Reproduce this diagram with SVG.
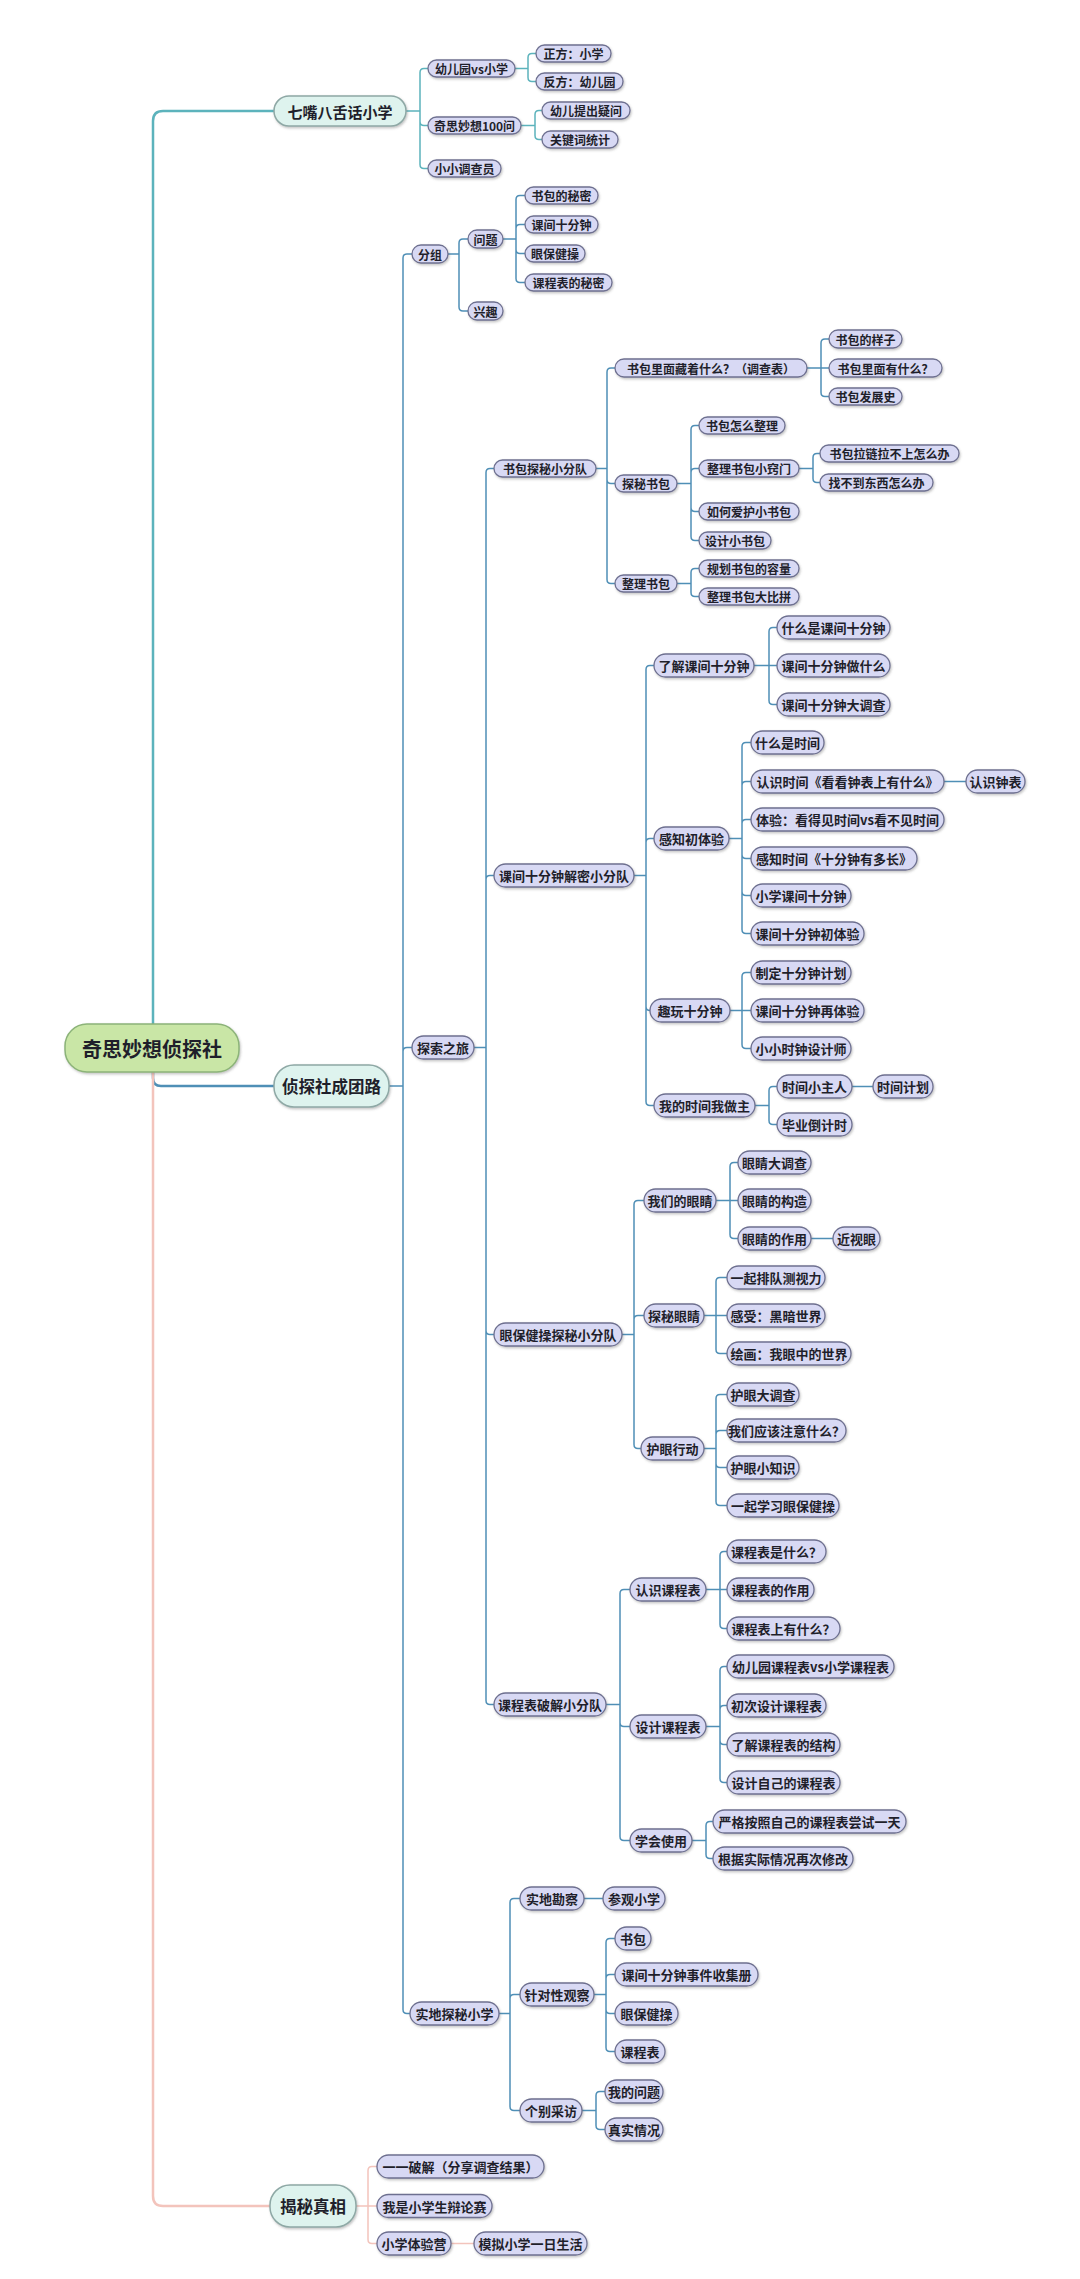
<svg xmlns="http://www.w3.org/2000/svg" width="1080" height="2279" viewBox="0 0 1080 2279">
<defs>
<filter id="sh" x="-10%" y="-20%" width="120%" height="160%">
<feDropShadow dx="1" dy="1.5" stdDeviation="0.8" flood-color="#555" flood-opacity="0.35"/>
</filter>
<style>
.n{fill:#d8d9f4;stroke:#6e7090;stroke-width:1.3;filter:url(#sh)}
.l1{fill:#def3ee;stroke:#8ea8a5;stroke-width:1.5;filter:url(#sh)}
.rt{fill:#c9e6a6;stroke:#8cb379;stroke-width:1.5;filter:url(#sh)}
text{font-family:"Noto Sans CJK SC","Noto Sans",sans-serif;fill:#1f1f2b;text-anchor:middle;dominant-baseline:central;font-weight:bold}
.t{font-size:12px}
.t2{font-size:13px}
.tl{font-size:15px}
.tb{font-size:16.5px}
.tr{font-size:20px}
.c{fill:none;stroke:#4f8fb6;stroke-width:1.5}
.c1{fill:none;stroke:#5cb3bc;stroke-width:1.5}
.cp{fill:none;stroke:#f3c4bc;stroke-width:1.5}
.m{stroke-width:2.5}
</style>
</defs>
<rect width="1080" height="2279" fill="#ffffff"/>

<g id="connectors">
<path class="c1 m" d="M153,1024V121Q153,111 163,111H274"/>
<path class="c m" d="M153,1072V1078Q153,1086 161,1086H274"/>
<path class="cp m" d="M153,1072V2196Q153,2206 163,2206H270"/>
<path class="c1" d="M406,111H420M420,111V72.5Q420,68.5 424,68.5H428M420,111V121.5Q420,125.5 424,125.5H428M420,111V164.5Q420,168.5 424,168.5H428"/>
<path class="c1" d="M515,68.5H528M528,68.5V57.5Q528,53.5 532,53.5H536M528,68.5V77.5Q528,81.5 532,81.5H536"/>
<path class="c1" d="M521,125.5H535M535,125.5V114.5Q535,110.5 539,110.5H542M535,125.5V135.5Q535,139.5 539,139.5H542"/>
<path class="c" d="M389,1086H403M403,1086V258Q403,254 407,254H412M403,1086V1051.5Q403,1047.5 407,1047.5H412M403,1086V2009.5Q403,2013.5 407,2013.5H410"/>
<path class="c" d="M448,254H459M459,254V243Q459,239 463,239H468M459,254V307Q459,311 463,311H468"/>
<path class="c" d="M503,239H516M516,239V199.5Q516,195.5 520,195.5H525M516,239V228.5Q516,224.5 520,224.5H525M516,239V249.5Q516,253.5 520,253.5H525M516,239V278.5Q516,282.5 520,282.5H525"/>
<path class="c" d="M474,1047.5H486M486,1047.5V472.5Q486,468.5 490,468.5H494M486,1047.5V879.5Q486,875.5 490,875.5H494M486,1047.5V1330.5Q486,1334.5 490,1334.5H494M486,1047.5V1700.5Q486,1704.5 490,1704.5H494"/>
<path class="c" d="M596,468.5H607M607,468.5V372Q607,368 611,368H615M607,468.5V479.5Q607,483.5 611,483.5H615M607,468.5V579.5Q607,583.5 611,583.5H615"/>
<path class="c" d="M807,368H829M821,368V343Q821,339 825,339H829M821,368V392.5Q821,396.5 825,396.5H829"/>
<path class="c" d="M677,483.5H691M691,483.5V429.5Q691,425.5 695,425.5H699M691,483.5V472.5Q691,468.5 695,468.5H699M691,483.5V507.5Q691,511.5 695,511.5H699M691,483.5V536.5Q691,540.5 695,540.5H699"/>
<path class="c" d="M799,468.5H813M813,468.5V457.5Q813,453.5 817,453.5H820M813,468.5V478.5Q813,482.5 817,482.5H820"/>
<path class="c" d="M677,583.5H691M691,583.5V572.5Q691,568.5 695,568.5H699M691,583.5V592.5Q691,596.5 695,596.5H699"/>
<path class="c" d="M634,875.5H646M646,875.5V669.5Q646,665.5 650,665.5H654M646,875.5V842.5Q646,838.5 650,838.5H654M646,875.5V1006.5Q646,1010.5 650,1010.5H650M646,875.5V1101.5Q646,1105.5 650,1105.5H654"/>
<path class="c" d="M754,665.5H777M769,665.5V631.5Q769,627.5 773,627.5H777M769,665.5V700.5Q769,704.5 773,704.5H777"/>
<path class="c" d="M729,838.5H742M742,838.5V746.5Q742,742.5 746,742.5H751M742,838.5V785.5Q742,781.5 746,781.5H751M742,838.5V823.5Q742,819.5 746,819.5H751M742,838.5V854.5Q742,858.5 746,858.5H751M742,838.5V891.5Q742,895.5 746,895.5H751M742,838.5V929.5Q742,933.5 746,933.5H751"/>
<path class="c" d="M944,781.5H966"/>
<path class="c" d="M730,1010.5H751M742,1010.5V976.5Q742,972.5 746,972.5H751M742,1010.5V1044.5Q742,1048.5 746,1048.5H751"/>
<path class="c" d="M755,1105.5H769M769,1105.5V1090.5Q769,1086.5 773,1086.5H777M769,1105.5V1120.5Q769,1124.5 773,1124.5H777"/>
<path class="c" d="M852,1086.5H873"/>
<path class="c" d="M622,1334.5H634M634,1334.5V1204.5Q634,1200.5 638,1200.5H644M634,1334.5V1319.5Q634,1315.5 638,1315.5H644M634,1334.5V1444.5Q634,1448.5 638,1448.5H641"/>
<path class="c" d="M716,1200.5H738M730,1200.5V1166.5Q730,1162.5 734,1162.5H738M730,1200.5V1234.5Q730,1238.5 734,1238.5H738"/>
<path class="c" d="M811,1238.5H833"/>
<path class="c" d="M704,1315.5H727M716,1315.5V1281.5Q716,1277.5 720,1277.5H727M716,1315.5V1349.5Q716,1353.5 720,1353.5H727"/>
<path class="c" d="M704,1448.5H716M716,1448.5V1398.5Q716,1394.5 720,1394.5H727M716,1448.5V1434.5Q716,1430.5 720,1430.5H727M716,1448.5V1463.5Q716,1467.5 720,1467.5H727M716,1448.5V1501.5Q716,1505.5 720,1505.5H727"/>
<path class="c" d="M606,1704.5H620M620,1704.5V1593.5Q620,1589.5 624,1589.5H630M620,1704.5V1722.5Q620,1726.5 624,1726.5H630M620,1704.5V1836.5Q620,1840.5 624,1840.5H630"/>
<path class="c" d="M706,1589.5H727M720,1589.5V1555.5Q720,1551.5 724,1551.5H727M720,1589.5V1624.5Q720,1628.5 724,1628.5H727"/>
<path class="c" d="M706,1726.5H720M720,1726.5V1670.5Q720,1666.5 724,1666.5H727M720,1726.5V1709.5Q720,1705.5 724,1705.5H727M720,1726.5V1740.5Q720,1744.5 724,1744.5H727M720,1726.5V1778.5Q720,1782.5 724,1782.5H727"/>
<path class="c" d="M692,1840.5H706M706,1840.5V1825.5Q706,1821.5 710,1821.5H713M706,1840.5V1854.5Q706,1858.5 710,1858.5H713"/>
<path class="c" d="M499,2013.5H510M510,2013.5V1902.5Q510,1898.5 514,1898.5H520M510,2013.5V1998.5Q510,1994.5 514,1994.5H520M510,2013.5V2106.5Q510,2110.5 514,2110.5H520"/>
<path class="c" d="M584,1898.5H603"/>
<path class="c" d="M594,1994.5H606M606,1994.5V1942.5Q606,1938.5 610,1938.5H615M606,1994.5V1978.5Q606,1974.5 610,1974.5H615M606,1994.5V2009.5Q606,2013.5 610,2013.5H615M606,1994.5V2047.5Q606,2051.5 610,2051.5H615"/>
<path class="c" d="M582,2110.5H596M596,2110.5V2095.5Q596,2091.5 600,2091.5H605M596,2110.5V2125.5Q596,2129.5 600,2129.5H605"/>
<path class="cp" d="M356,2206H377M368,2206V2170.5Q368,2166.5 372,2166.5H377M368,2206V2239.5Q368,2243.5 372,2243.5H377"/>
<path class="cp" d="M451,2243.5H474"/>
</g>

<g id="root"><rect class="rt" x="65" y="1024" width="174" height="48" rx="22"/><text class="tr" x="152" y="1048">奇思妙想侦探社</text></g>

<g id="n-qizui"><rect class="l1" x="274" y="96" width="132" height="30" rx="15"/><text class="tl" x="340" y="111">七嘴八舌话小学</text></g>
<g id="n-ybvs"><rect class="n" x="428" y="60" width="87" height="17" rx="8.5"/><text class="t" x="471.5" y="68.5">幼儿园vs小学</text></g>
<g id="n-qs100"><rect class="n" x="428" y="117" width="93" height="17" rx="8.5"/><text class="t" x="474.5" y="125.5">奇思妙想100问</text></g>
<g id="n-xxdcy"><rect class="n" x="428" y="160" width="73" height="17" rx="8.5"/><text class="t" x="464.5" y="168.5">小小调查员</text></g>
<g id="n-zf"><rect class="n" x="536" y="45" width="75" height="17" rx="8.5"/><text class="t" x="573.5" y="53.5">正方：小学</text></g>
<g id="n-ff"><rect class="n" x="536" y="73" width="87" height="17" rx="8.5"/><text class="t" x="579.5" y="81.5">反方：幼儿园</text></g>
<g id="n-yetc"><rect class="n" x="542" y="102" width="88" height="17" rx="8.5"/><text class="t" x="586" y="110.5">幼儿提出疑问</text></g>
<g id="n-gjc"><rect class="n" x="542" y="131" width="76" height="17" rx="8.5"/><text class="t" x="580" y="139.5">关键词统计</text></g>

<g id="n-zts"><rect class="l1" x="274" y="1065" width="115" height="42" rx="20"/><text class="tb" x="331.5" y="1086">侦探社成团路</text></g>
<g id="n-fz"><rect class="n" x="412" y="245" width="36" height="18" rx="9"/><text class="t" x="430" y="254">分组</text></g>
<g id="n-wt"><rect class="n" x="468" y="230" width="35" height="18" rx="9"/><text class="t" x="485.5" y="239">问题</text></g>
<g id="n-xq"><rect class="n" x="468" y="302" width="35" height="18" rx="9"/><text class="t" x="485.5" y="311">兴趣</text></g>
<g id="n-sbdmm"><rect class="n" x="525" y="187" width="73" height="17" rx="8.5"/><text class="t" x="561.5" y="195.5">书包的秘密</text></g>
<g id="n-kj10"><rect class="n" x="525" y="216" width="73" height="17" rx="8.5"/><text class="t" x="561.5" y="224.5">课间十分钟</text></g>
<g id="n-ybjc"><rect class="n" x="525" y="245" width="60" height="17" rx="8.5"/><text class="t" x="555" y="253.5">眼保健操</text></g>
<g id="n-kcbmm"><rect class="n" x="525" y="274" width="87" height="17" rx="8.5"/><text class="t" x="568.5" y="282.5">课程表的秘密</text></g>

<g id="n-tszl"><rect class="n" x="412" y="1036" width="62" height="23" rx="11.5"/><text class="t2" x="443" y="1047.5">探索之旅</text></g>
<g id="n-sbfd"><rect class="n" x="494" y="460" width="102" height="17" rx="8.5"/><text class="t" x="545" y="468.5">书包探秘小分队</text></g>
<g id="n-sblm"><rect class="n" x="615" y="359" width="192" height="18" rx="9"/><text class="t" x="711" y="368">书包里面藏着什么？（调查表）</text></g>
<g id="n-sbyz"><rect class="n" x="829" y="330" width="73" height="18" rx="9"/><text class="t" x="865.5" y="339">书包的样子</text></g>
<g id="n-sbyw"><rect class="n" x="829" y="359" width="113" height="18" rx="9"/><text class="t" x="885.5" y="368">书包里面有什么？</text></g>
<g id="n-sbfz"><rect class="n" x="829" y="388" width="73" height="17" rx="8.5"/><text class="t" x="865.5" y="396.5">书包发展史</text></g>
<g id="n-tmsb"><rect class="n" x="615" y="475" width="62" height="17" rx="8.5"/><text class="t" x="646" y="483.5">探秘书包</text></g>
<g id="n-sbzm"><rect class="n" x="699" y="417" width="86" height="17" rx="8.5"/><text class="t" x="742" y="425.5">书包怎么整理</text></g>
<g id="n-zlqm"><rect class="n" x="699" y="460" width="100" height="17" rx="8.5"/><text class="t" x="749" y="468.5">整理书包小窍门</text></g>
<g id="n-llbs"><rect class="n" x="820" y="445" width="139" height="17" rx="8.5"/><text class="t" x="889.5" y="453.5">书包拉链拉不上怎么办</text></g>
<g id="n-zbd"><rect class="n" x="820" y="474" width="113" height="17" rx="8.5"/><text class="t" x="876.5" y="482.5">找不到东西怎么办</text></g>
<g id="n-rhah"><rect class="n" x="699" y="503" width="100" height="17" rx="8.5"/><text class="t" x="749" y="511.5">如何爱护小书包</text></g>
<g id="n-sjxsb"><rect class="n" x="699" y="532" width="72" height="17" rx="8.5"/><text class="t" x="735" y="540.5">设计小书包</text></g>
<g id="n-zlsb"><rect class="n" x="615" y="575" width="62" height="17" rx="8.5"/><text class="t" x="646" y="583.5">整理书包</text></g>
<g id="n-ghrl"><rect class="n" x="699" y="560" width="100" height="17" rx="8.5"/><text class="t" x="749" y="568.5">规划书包的容量</text></g>
<g id="n-dbp"><rect class="n" x="699" y="588" width="100" height="17" rx="8.5"/><text class="t" x="749" y="596.5">整理书包大比拼</text></g>

<g id="n-kjjm"><rect class="n" x="494" y="864" width="140" height="23" rx="11.5"/><text class="t2" x="564" y="875.5">课间十分钟解密小分队</text></g>
<g id="n-ljkj"><rect class="n" x="654" y="654" width="100" height="23" rx="11.5"/><text class="t2" x="704" y="665.5">了解课间十分钟</text></g>
<g id="n-smskj"><rect class="n" x="777" y="616" width="113" height="23" rx="11.5"/><text class="t2" x="833.5" y="627.5">什么是课间十分钟</text></g>
<g id="n-kjzsm"><rect class="n" x="777" y="654" width="113" height="23" rx="11.5"/><text class="t2" x="833.5" y="665.5">课间十分钟做什么</text></g>
<g id="n-kjdc"><rect class="n" x="777" y="693" width="113" height="23" rx="11.5"/><text class="t2" x="833.5" y="704.5">课间十分钟大调查</text></g>
<g id="n-smssj"><rect class="n" x="751" y="731" width="73" height="23" rx="11.5"/><text class="t2" x="787.5" y="742.5">什么是时间</text></g>
<g id="n-rssj"><rect class="n" x="751" y="770" width="193" height="23" rx="11.5"/><text class="t2" x="847.5" y="781.5">认识时间《看看钟表上有什么》</text></g>
<g id="n-rszb"><rect class="n" x="966" y="770" width="59" height="23" rx="11.5"/><text class="t2" x="995.5" y="781.5">认识钟表</text></g>
<g id="n-tysj"><rect class="n" x="751" y="808" width="193" height="23" rx="11.5"/><text class="t2" x="847.5" y="819.5">体验：看得见时间vs看不见时间</text></g>
<g id="n-gzcty"><rect class="n" x="654" y="827" width="75" height="23" rx="11.5"/><text class="t2" x="691.5" y="838.5">感知初体验</text></g>
<g id="n-gzsj"><rect class="n" x="751" y="847" width="166" height="23" rx="11.5"/><text class="t2" x="834" y="858.5">感知时间《十分钟有多长》</text></g>
<g id="n-xxkj"><rect class="n" x="751" y="884" width="100" height="23" rx="11.5"/><text class="t2" x="801" y="895.5">小学课间十分钟</text></g>
<g id="n-kjcty"><rect class="n" x="751" y="922" width="113" height="23" rx="11.5"/><text class="t2" x="807.5" y="933.5">课间十分钟初体验</text></g>
<g id="n-zdjh"><rect class="n" x="751" y="961" width="100" height="23" rx="11.5"/><text class="t2" x="801" y="972.5">制定十分钟计划</text></g>
<g id="n-qw10"><rect class="n" x="650" y="999" width="80" height="23" rx="11.5"/><text class="t2" x="690" y="1010.5">趣玩十分钟</text></g>
<g id="n-kjzty"><rect class="n" x="751" y="999" width="113" height="23" rx="11.5"/><text class="t2" x="807.5" y="1010.5">课间十分钟再体验</text></g>
<g id="n-xxsz"><rect class="n" x="751" y="1037" width="100" height="23" rx="11.5"/><text class="t2" x="801" y="1048.5">小小时钟设计师</text></g>
<g id="n-wdsj"><rect class="n" x="654" y="1094" width="101" height="23" rx="11.5"/><text class="t2" x="704.5" y="1105.5">我的时间我做主</text></g>
<g id="n-sjxzr"><rect class="n" x="777" y="1075" width="75" height="23" rx="11.5"/><text class="t2" x="814.5" y="1086.5">时间小主人</text></g>
<g id="n-sjjh"><rect class="n" x="873" y="1075" width="60" height="23" rx="11.5"/><text class="t2" x="903" y="1086.5">时间计划</text></g>
<g id="n-bydj"><rect class="n" x="777" y="1113" width="75" height="23" rx="11.5"/><text class="t2" x="814.5" y="1124.5">毕业倒计时</text></g>

<g id="n-ybfd"><rect class="n" x="494" y="1323" width="128" height="23" rx="11.5"/><text class="t2" x="558" y="1334.5">眼保健操探秘小分队</text></g>
<g id="n-wmdyj"><rect class="n" x="644" y="1189" width="72" height="23" rx="11.5"/><text class="t2" x="680" y="1200.5">我们的眼睛</text></g>
<g id="n-yjdc"><rect class="n" x="738" y="1151" width="73" height="23" rx="11.5"/><text class="t2" x="774.5" y="1162.5">眼睛大调查</text></g>
<g id="n-yjgz"><rect class="n" x="738" y="1189" width="73" height="23" rx="11.5"/><text class="t2" x="774.5" y="1200.5">眼睛的构造</text></g>
<g id="n-yjzy"><rect class="n" x="738" y="1227" width="73" height="23" rx="11.5"/><text class="t2" x="774.5" y="1238.5">眼睛的作用</text></g>
<g id="n-jsy"><rect class="n" x="833" y="1227" width="47" height="23" rx="11.5"/><text class="t2" x="856.5" y="1238.5">近视眼</text></g>
<g id="n-tmyj"><rect class="n" x="644" y="1304" width="60" height="23" rx="11.5"/><text class="t2" x="674" y="1315.5">探秘眼睛</text></g>
<g id="n-pdcs"><rect class="n" x="727" y="1266" width="98" height="23" rx="11.5"/><text class="t2" x="776" y="1277.5">一起排队测视力</text></g>
<g id="n-hasj"><rect class="n" x="727" y="1304" width="98" height="23" rx="11.5"/><text class="t2" x="776" y="1315.5">感受：黑暗世界</text></g>
<g id="n-hh"><rect class="n" x="727" y="1342" width="124" height="23" rx="11.5"/><text class="t2" x="789" y="1353.5">绘画：我眼中的世界</text></g>
<g id="n-hyxd"><rect class="n" x="641" y="1437" width="63" height="23" rx="11.5"/><text class="t2" x="672.5" y="1448.5">护眼行动</text></g>
<g id="n-hydc"><rect class="n" x="727" y="1383" width="72" height="23" rx="11.5"/><text class="t2" x="763" y="1394.5">护眼大调查</text></g>
<g id="n-zyzs"><rect class="n" x="727" y="1419" width="119" height="23" rx="11.5"/><text class="t2" x="786.5" y="1430.5">我们应该注意什么？</text></g>
<g id="n-hyzs"><rect class="n" x="727" y="1456" width="72" height="23" rx="11.5"/><text class="t2" x="763" y="1467.5">护眼小知识</text></g>
<g id="n-xxyb"><rect class="n" x="727" y="1494" width="112" height="23" rx="11.5"/><text class="t2" x="783" y="1505.5">一起学习眼保健操</text></g>

<g id="n-kcfd"><rect class="n" x="494" y="1693" width="112" height="23" rx="11.5"/><text class="t2" x="550" y="1704.5">课程表破解小分队</text></g>
<g id="n-rskcb"><rect class="n" x="630" y="1578" width="76" height="23" rx="11.5"/><text class="t2" x="668" y="1589.5">认识课程表</text></g>
<g id="n-kcbssm"><rect class="n" x="727" y="1540" width="99" height="23" rx="11.5"/><text class="t2" x="776.5" y="1551.5">课程表是什么？</text></g>
<g id="n-kcbzy"><rect class="n" x="727" y="1578" width="87" height="23" rx="11.5"/><text class="t2" x="770.5" y="1589.5">课程表的作用</text></g>
<g id="n-kcbys"><rect class="n" x="727" y="1617" width="113" height="23" rx="11.5"/><text class="t2" x="783.5" y="1628.5">课程表上有什么？</text></g>
<g id="n-sjkcb"><rect class="n" x="630" y="1715" width="76" height="23" rx="11.5"/><text class="t2" x="668" y="1726.5">设计课程表</text></g>
<g id="n-yevs"><rect class="n" x="727" y="1655" width="167" height="23" rx="11.5"/><text class="t2" x="810.5" y="1666.5">幼儿园课程表vs小学课程表</text></g>
<g id="n-ccsj"><rect class="n" x="727" y="1694" width="99" height="23" rx="11.5"/><text class="t2" x="776.5" y="1705.5">初次设计课程表</text></g>
<g id="n-ljjg"><rect class="n" x="727" y="1733" width="113" height="23" rx="11.5"/><text class="t2" x="783.5" y="1744.5">了解课程表的结构</text></g>
<g id="n-sjzj"><rect class="n" x="727" y="1771" width="113" height="23" rx="11.5"/><text class="t2" x="783.5" y="1782.5">设计自己的课程表</text></g>
<g id="n-xhsy"><rect class="n" x="630" y="1829" width="62" height="23" rx="11.5"/><text class="t2" x="661" y="1840.5">学会使用</text></g>
<g id="n-ygaz"><rect class="n" x="713" y="1810" width="193" height="23" rx="11.5"/><text class="t2" x="809.5" y="1821.5">严格按照自己的课程表尝试一天</text></g>
<g id="n-gjsj"><rect class="n" x="713" y="1847" width="140" height="23" rx="11.5"/><text class="t2" x="783" y="1858.5">根据实际情况再次修改</text></g>

<g id="n-sdtm"><rect class="n" x="410" y="2002" width="89" height="23" rx="11.5"/><text class="t2" x="454.5" y="2013.5">实地探秘小学</text></g>
<g id="n-sdkc"><rect class="n" x="520" y="1887" width="64" height="23" rx="11.5"/><text class="t2" x="552" y="1898.5">实地勘察</text></g>
<g id="n-cgxx"><rect class="n" x="603" y="1887" width="62" height="23" rx="11.5"/><text class="t2" x="634" y="1898.5">参观小学</text></g>
<g id="n-zdxgc"><rect class="n" x="520" y="1983" width="74" height="23" rx="11.5"/><text class="t2" x="557" y="1994.5">针对性观察</text></g>
<g id="n-sb"><rect class="n" x="615" y="1927" width="36" height="23" rx="11.5"/><text class="t2" x="633" y="1938.5">书包</text></g>
<g id="n-sjsjc"><rect class="n" x="615" y="1963" width="143" height="23" rx="11.5"/><text class="t2" x="686.5" y="1974.5">课间十分钟事件收集册</text></g>
<g id="n-ybjc2"><rect class="n" x="615" y="2002" width="63" height="23" rx="11.5"/><text class="t2" x="646.5" y="2013.5">眼保健操</text></g>
<g id="n-kcb"><rect class="n" x="615" y="2040" width="50" height="23" rx="11.5"/><text class="t2" x="640" y="2051.5">课程表</text></g>
<g id="n-gbcf"><rect class="n" x="520" y="2099" width="62" height="23" rx="11.5"/><text class="t2" x="551" y="2110.5">个别采访</text></g>
<g id="n-wdwt"><rect class="n" x="605" y="2080" width="58" height="23" rx="11.5"/><text class="t2" x="634" y="2091.5">我的问题</text></g>
<g id="n-zsqk"><rect class="n" x="605" y="2118" width="58" height="23" rx="11.5"/><text class="t2" x="634" y="2129.5">真实情况</text></g>

<g id="n-jmzx"><rect class="l1" x="270" y="2185" width="86" height="42" rx="20"/><text class="tb" x="313" y="2206">揭秘真相</text></g>
<g id="n-yypj"><rect class="n" x="377" y="2155" width="167" height="23" rx="11.5"/><text class="t2" x="460.5" y="2166.5">一一破解（分享调查结果）</text></g>
<g id="n-bls"><rect class="n" x="377" y="2194.5" width="115" height="23" rx="11.5"/><text class="t2" x="434.5" y="2206">我是小学生辩论赛</text></g>
<g id="n-tyy"><rect class="n" x="377" y="2232" width="74" height="23" rx="11.5"/><text class="t2" x="414" y="2243.5">小学体验营</text></g>
<g id="n-mnxx"><rect class="n" x="474" y="2232" width="113" height="23" rx="11.5"/><text class="t2" x="530.5" y="2243.5">模拟小学一日生活</text></g>
</svg>
